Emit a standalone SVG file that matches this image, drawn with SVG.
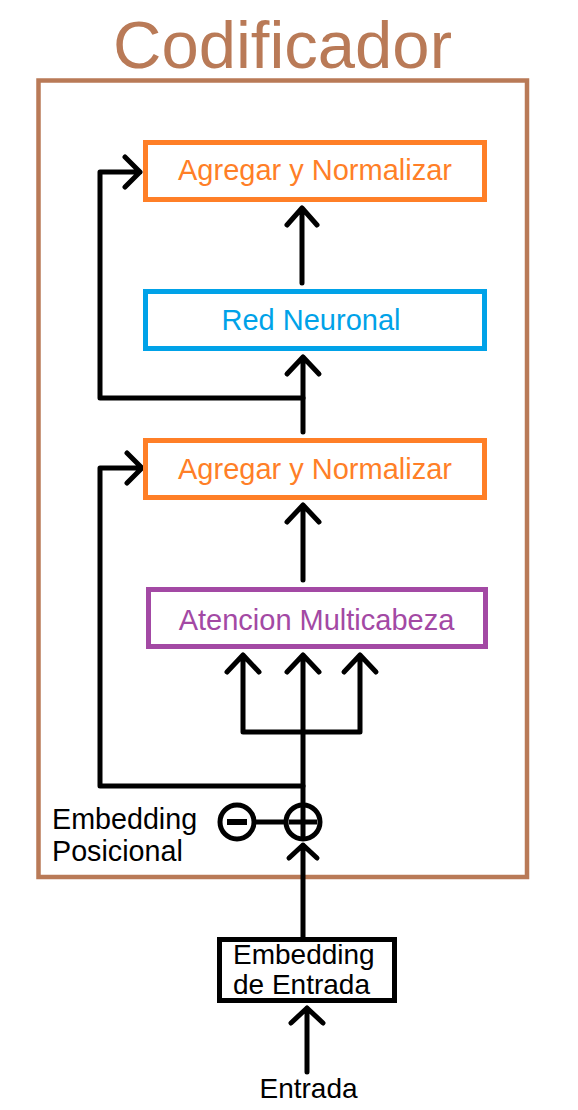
<svg xmlns="http://www.w3.org/2000/svg" width="578" height="1110" viewBox="0 0 578 1110">
<style>
text{font-family:"Liberation Sans",Arial,sans-serif;font-size:28px}
.l{font-size:29px}
.c{fill:none;stroke:#000;stroke-width:5;stroke-linecap:round;stroke-linejoin:round}
.box{fill:#fff;stroke-width:5}
.or{stroke:#FF7F27}.bl{stroke:#00A2E8}.pu{stroke:#A349A4}
</style>
<rect width="578" height="1110" fill="#fff"/>
<text x="282.5" y="68" text-anchor="middle" style="font-size:67px" fill="#B97A57">Codificador</text>
<rect id="encoder" x="38.5" y="80.5" width="488.5" height="796.5" fill="none" stroke="#B97A57" stroke-width="4.5"/>
<g id="connectors" class="c">
<path d="M303 938V845M289 858L303 845L317 858"/>
<path d="M307 1072V1008M291 1023L307 1008L323 1023"/>
<path d="M303 805V655M287 672L303 655L319 672"/>
<path d="M303 732H243V655M227 672L243 655L259 672"/>
<path d="M303 732H360V655M344 672L360 655L376 672"/>
<path d="M303 786H100V468H142M127 453L142 468L127 483"/>
<path d="M303 580V505M287 522L303 505L319 522"/>
<path d="M303 432V357M287 374L303 357L319 374"/>
<path d="M303 398H100V172H140M125 157L140 172L125 187"/>
<path d="M302 283V208M287 225L302 208L317 225"/>
<path d="M254 822H286"/>
</g>
<g id="add1"><rect class="box or" x="145.5" y="142.5" width="339" height="57"/><text class="l" x="315" y="180" text-anchor="middle" fill="#FF7F27">Agregar y Normalizar</text></g>
<g id="ffn"><rect class="box bl" x="145.5" y="291.5" width="339" height="57"/><text class="l" x="311" y="330" text-anchor="middle" fill="#00A2E8">Red Neuronal</text></g>
<g id="add2"><rect class="box or" x="145.5" y="440.5" width="339" height="57"/><text class="l" x="315" y="479" text-anchor="middle" fill="#FF7F27">Agregar y Normalizar</text></g>
<g id="mha"><rect class="box pu" x="148.5" y="589.5" width="337" height="57"/><text class="l" x="316.5" y="630" text-anchor="middle" fill="#A349A4">Atencion Multicabeza</text></g>
<g id="plus"><circle cx="303" cy="822" r="17" fill="#fff" stroke="#000" stroke-width="5"/><path d="M289 822H317M303 806V838" stroke="#000" stroke-width="5"/></g>
<g id="minus"><circle cx="237" cy="822" r="17" fill="#fff" stroke="#000" stroke-width="5"/><path d="M227 822H247" stroke="#000" stroke-width="6"/></g>
<g id="posenc"><text x="52" y="829" style="font-size:28.7px">Embedding</text><text x="52" y="861" style="font-size:28.7px">Posicional</text></g>
<g id="inemb"><rect x="219.5" y="939.5" width="175" height="61" fill="#fff" stroke="#000" stroke-width="5"/><text x="233" y="964">Embedding</text><text x="233" y="994">de Entrada</text></g>
<g id="input"><text x="308.5" y="1098" text-anchor="middle">Entrada</text></g>
</svg>
